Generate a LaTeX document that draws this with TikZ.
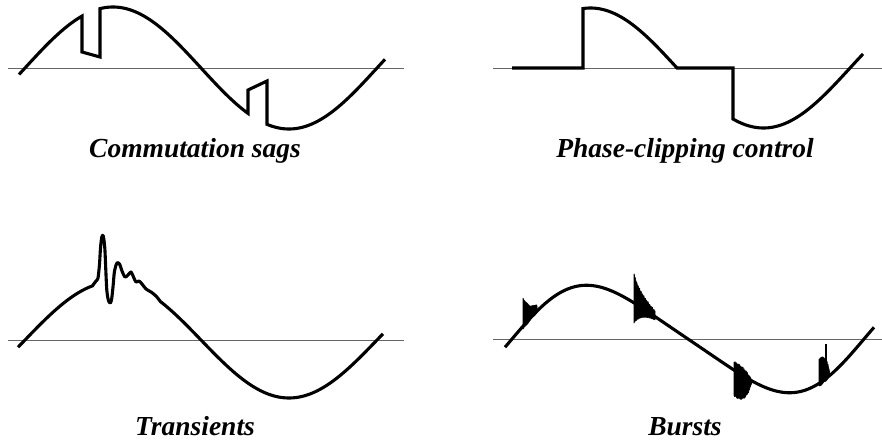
\documentclass[tikz,border=0pt]{standalone}
\usepackage{fontspec}
\setmainfont{Liberation Serif}
\begin{document}
\begin{tikzpicture}[x=1pt,y=-1pt,
  wave/.style={line width=3.1pt, line join=miter},
  axis/.style={line width=0.9pt, black!60},
  blob/.style={fill=black, draw=black, line width=0.6pt, line join=round},
  lbl/.style={font=\fontsize{27.5}{30}\selectfont\bfseries\itshape, anchor=base, inner sep=0pt},
  declare function={
    sa(\x)=68-61*sin((\x-25)/176*180);
    sb(\x)=68+60*sin((\x-677)/173*180);
    sc(\x)=340-58*sin((\x-25)/176*180);
    sd(\x)=339-52*(sin((\x-512)/176*180)+0.135*sin((\x-512)/176*360));
    jt(\x)=1.6*sin(590*\x)*sin(170*\x);
  }]
\useasboundingbox (0,0) rectangle (882,441);

% ---- Commutation sags
\draw[axis] (8,68) -- (404,68);
\draw[wave] plot[domain=19:82,samples=40] (\x,{sa(\x)}) -- (82,52) -- (100,57)
  -- plot[domain=100:248,samples=90] (\x,{sa(\x)}) -- (248,90) -- (267,81)
  -- plot[domain=267:385,samples=70] (\x,{sa(\x)});
\node[lbl] (la) at (195,157) {Commutation sags};

% ---- Phase-clipping control
\draw[axis] (493,68) -- (882,68);
\draw[wave] (512,68) -- (583,68) -- plot[domain=583:677,samples=60] (\x,{sb(\x)})
  -- (733,68) -- plot[domain=733:863,samples=70] (\x,{sb(\x)});
\node[lbl] (lb) at (685,157) {Phase-clipping control};

% ---- Transients
\draw[axis] (8,340) -- (404,340);
\draw[wave, line join=round] plot[domain=18:93,samples=40] (\x,{sc(\x)})
  -- plot[smooth,tension=0.5] coordinates {(93,285) (96,281) (98,278) (99.5,264)
   (100.5,248) (101.8,237) (103.3,236) (104.8,248) (105.8,270) (106.8,290) (108.3,300)
   (110,303) (111.5,300) (113,287) (114.5,271) (117,263) (119.5,264) (122,271)
   (125,277) (128,275) (131,272) (133.5,277) (136,282) (139,281) (142,284)
   (146,289) (151,292) (156,296) (160,301)}
  -- plot[domain=160:383,samples=90] (\x,{sc(\x)});
\node[lbl] (lc) at (195,435) {Transients};

% ---- Bursts
\draw[axis] (493,339) -- (882,339);
\draw[wave] plot[domain=505:874,samples=150] (\x,{sd(\x)});
% burst 1
\draw[blob] plot[domain=0:14,samples=45]
   ({523+\x},{sd(523+\x)-27*exp(-\x/8)-1+jt(\x)})
  -- plot[domain=14:0,samples=45]
   ({523+\x},{sd(523+\x)+2.5*exp(-\x/10)+abs(jt(\x+3))}) -- cycle;
% burst 2
\draw[blob] plot[domain=0:21,samples=60]
   ({634+\x},{sd(634+\x)-26*exp(-\x/13)+jt(\x)+(\x<3 ? -3+\x : 0)})
  -- plot[domain=21:0,samples=60]
   ({634+\x},{sd(634+\x)+19*exp(-\x/10)+abs(jt(\x+5))}) -- cycle;
% burst 3
\draw[blob] plot[domain=0:18,samples=55]
   ({734+\x},{sd(734+\x)-8*(1-(\x/18)^3)+jt(\x)})
  -- plot[domain=18:0,samples=55]
   ({734+\x},{sd(734+\x)+25*(1-(\x/18)^3)+abs(jt(\x+2))}) -- cycle;
% burst 4
\draw[blob] plot[domain=0:11,samples=35]
   ({819+\x},{sd(819+\x)-23*(1-(\x/11)^3)-1+jt(\x)})
  -- plot[domain=11:0,samples=35]
   ({819+\x},{sd(819+\x)+2*(1-(\x/11)^2)+abs(jt(\x+4))}) -- cycle;
\draw[line width=2pt] (825.5,344) -- (825.5,362);
\node[lbl] (ld) at (685,435) {Bursts};
\end{tikzpicture}
\end{document}
